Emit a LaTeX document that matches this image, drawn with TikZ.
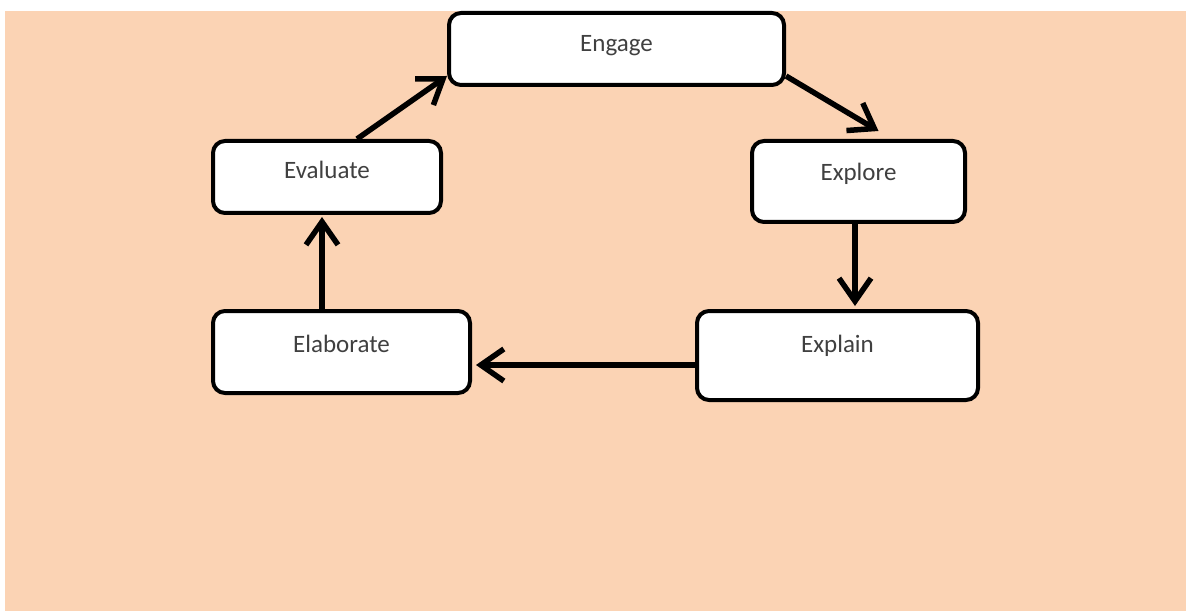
\documentclass[tikz,border=0pt]{standalone}
\usepackage{fontspec}
\setmainfont{Carlito}
\usetikzlibrary{arrows.meta}

\tikzset{
  stage/.style={draw=black, line width=2pt, rounded corners=6pt, fill=white,
    inner sep=0pt, text=textColor, font=\fontsize{12.5}{15}\selectfont},
  flow/.style={draw=black, line width=2.75pt,
    -{Straight Barb[length=11.5pt, width=16pt, line width=2.75pt]}}
}

\begin{document}
\begin{tikzpicture}[x=0.5pt,y=0.5pt]
\definecolor{fillColor}{RGB}{251,211,180}
\definecolor{textColor}{RGB}{64,64,64}
\path[use as bounding box,fill=white] (0,0) rectangle (1186,611);
\path[fill=fillColor] (5,0) rectangle (1186,600);

\node[stage, minimum width=167.5pt, text height=19.5pt, text depth=16.5pt] (Engage) at (616.5,562.0) {Engage};
\node[stage, minimum width=114pt, text height=19pt, text depth=17pt] (Evaluate) at (327.0,434.0) {Evaluate};
\node[stage, minimum width=106.5pt, text height=20pt, text depth=20.5pt] (Explore) at (858.5,429.5) {Explore};
\node[stage, minimum width=140.5pt, text height=20.5pt, text depth=24pt] (Explain) at (837.5,255.5) {Explain};
\node[stage, minimum width=128.5pt, text height=20.5pt, text depth=20.5pt] (Elaborate) at (341.5,259.0) {Elaborate};

\draw[flow] ([xshift=15pt]Evaluate.north) -- ([yshift=-13.5pt]Engage.west);
\draw[flow] ([yshift=-13.5pt]Engage.east) -- ([xshift=10pt,yshift=4pt]Explore.north);
\draw[flow] ([xshift=-1.75pt]Explore.south) -- ([xshift=8.75pt,yshift=1.5pt]Explain.north);
\draw[flow] ([yshift=-4.75pt]Explain.west) -- ([xshift=2pt,yshift=-4.75pt]Explain.west -| Elaborate.east);
\draw[flow] ([xshift=-9.75pt]Elaborate.north) -- ([xshift=-9.75pt,yshift=-1pt]Elaborate.north |- Evaluate.south);
\end{tikzpicture}
\end{document}
